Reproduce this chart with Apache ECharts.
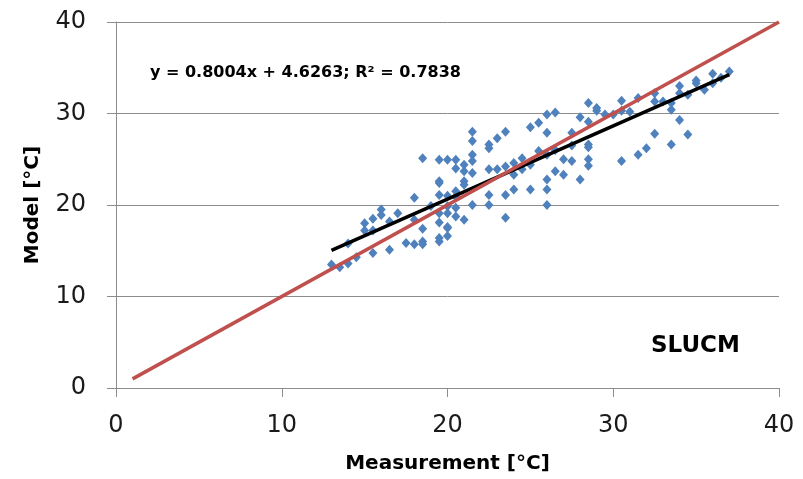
<!DOCTYPE html>
<html>
<head>
<meta charset="utf-8">
<script src="https://cdn.jsdelivr.net/npm/echarts@6/dist/echarts.min.js"></script>
<style>
html,body{margin:0;padding:0;background:#fff;}
#chart{width:803px;height:479px;}
</style>
</head>
<body>
<div id="chart"></div>
<script>
// Measurement vs model (°C)
const measured = [
  13.0,13.5,14.0,14.0,14.5,15.0,15.0,15.5,15.5,15.5,16.0,16.0,16.5,16.5,17.0,17.5,
  18.0,18.0,18.0,18.5,18.5,18.5,18.5,19.0,19.5,19.5,19.5,19.5,19.5,19.5,19.5,19.5,
  20.0,20.0,20.0,20.0,20.0,20.0,20.0,20.5,20.5,20.5,20.5,20.5,20.5,
  21.0,21.0,21.0,21.0,21.0,21.5,21.5,21.5,21.5,21.5,21.5,
  22.5,22.5,22.5,22.5,22.5,23.0,23.0,23.5,23.5,23.5,23.5,24.0,24.0,24.0,24.5,24.5,
  25.0,25.0,25.0,25.5,25.5,26.0,26.0,26.0,26.0,26.0,26.0,26.5,26.5,26.5,27.0,27.0,
  27.5,27.5,27.5,28.0,28.0,28.5,28.5,28.5,28.5,28.5,28.5,29.0,29.0,29.5,30.0,
  30.5,30.5,30.5,31.0,31.5,31.5,32.0,32.5,32.5,32.5,33.0,33.5,33.5,33.5,
  34.0,34.0,34.0,34.5,34.5,35.0,35.0,35.5,36.0,36.0,36.5,37.0
];
const modelled = [
  13.5,13.2,13.6,15.8,14.3,18.0,17.2,17.2,18.5,14.75,19.5,18.9,18.2,15.1,19.1,15.85,
  20.8,18.4,15.7,17.4,16.0,15.7,25.1,19.9,22.4,21.1,19.1,18.1,16.4,16.0,24.95,22.6,
  21.0,19.1,17.5,16.6,24.95,19.85,17.6,20.9,24.95,24.0,21.5,19.7,18.75,
  24.4,23.7,22.6,22.2,18.4,28.0,27.0,25.5,24.8,23.5,20.0,
  26.6,26.2,23.9,21.1,20.0,27.3,23.9,28.0,24.2,21.1,18.6,24.6,23.3,21.7,25.1,23.9,
  28.5,24.4,21.7,29.0,25.9,29.9,27.9,25.5,22.8,21.7,20.0,30.1,26.0,23.7,25.0,23.3,
  27.9,26.5,24.8,22.8,29.6,31.15,29.1,26.6,26.3,25.0,24.3,30.6,30.3,29.9,29.9,
  31.4,30.3,24.8,30.2,31.7,25.5,26.2,32.2,31.3,27.8,31.3,31.15,30.4,26.6,
  33.0,32.2,29.3,32.05,27.7,33.6,33.3,32.6,34.35,33.3,33.9,34.6
];
const oneToOneX = [1, 40];
const oneToOneY = [1, 40];
const trendX = [13, 37];
const trendY = [15.03, 34.24];
const axisTicks = [0, 10, 20, 30, 40];
const equationText = 'y = 0.8004x + 4.6263; R² = 0.7838';
const modelName = 'SLUCM';
const xName = 'Measurement [°C]';
const yName = 'Model [°C]';

const scatterData = measured.map((x, i) => [x, modelled[i]]);
const lineData = (xs, ys) => xs.map((x, i) => [x, ys[i]]);

const chart = echarts.init(document.getElementById('chart'), null, {renderer: 'canvas'});
const FONT = 'DejaVu Sans';
const axisCommon = {
  min: axisTicks[0],
  max: axisTicks[axisTicks.length - 1],
  interval: axisTicks[1] - axisTicks[0],
  axisLine: {show: true, lineStyle: {color: '#8c8c8c', width: 1}},
  axisTick: {show: true, inside: false, length: 9, lineStyle: {color: '#8c8c8c'}},
  axisLabel: {color: '#1a1a1a', fontFamily: FONT, fontSize: 24},
  nameTextStyle: {color: '#000', fontFamily: FONT, fontSize: 20, fontWeight: 'bold'}
};
chart.setOption({
  animation: false,
  backgroundColor: '#ffffff',
  grid: {left: 116, right: 24, top: 22, bottom: 91, containLabel: false},
  xAxis: Object.assign({}, axisCommon, {
    type: 'value',
    splitLine: {show: false},
    name: xName,
    nameLocation: 'middle',
    nameGap: 66,
    axisLabel: Object.assign({}, axisCommon.axisLabel, {margin: 26})
  }),
  yAxis: Object.assign({}, axisCommon, {
    type: 'value',
    splitLine: {show: true, lineStyle: {color: '#8c8c8c', width: 1}},
    name: yName,
    nameLocation: 'middle',
    nameGap: 73,
    axisLabel: Object.assign({}, axisCommon.axisLabel, {margin: 30})
  }),
  series: [
    {
      type: 'scatter',
      data: scatterData,
      symbol: 'diamond',
      symbolSize: [9, 10],
      itemStyle: {color: '#4F81BD', opacity: 1},
      z: 2
    },
    {
      type: 'line',
      data: lineData(trendX, trendY),
      showSymbol: false,
      symbol: 'none',
      lineStyle: {color: '#000000', width: 3.5},
      z: 3
    },
    {
      type: 'line',
      data: lineData(oneToOneX, oneToOneY),
      showSymbol: false,
      symbol: 'none',
      lineStyle: {color: '#C0504D', width: 3.5},
      z: 4
    }
  ],
  graphic: [
    {
      type: 'text', left: 150, top: 65,
      style: {text: equationText, fill: '#000', font: 'bold 16px "DejaVu Sans"'}
    },
    {
      type: 'text', left: 651, top: 335,
      style: {text: modelName, fill: '#000', font: 'bold 23px "DejaVu Sans"'}
    }
  ]
});
</script>
</body>
</html>
